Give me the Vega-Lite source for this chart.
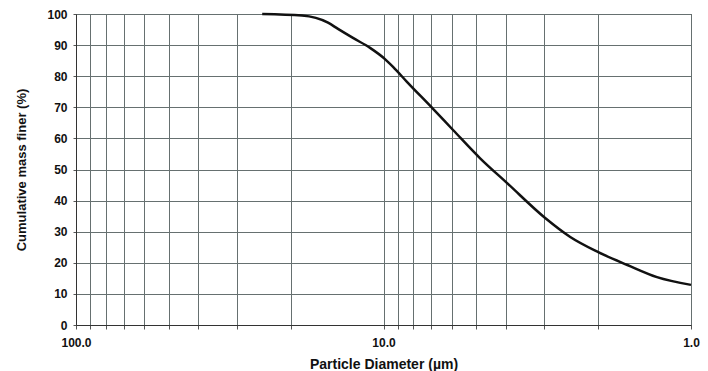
{
  "$schema": "https://vega.github.io/schema/vega-lite/v6.json",
  "width": 615,
  "height": 311,
  "autosize": "none",
  "padding": {"left": 76, "top": 14, "right": 17, "bottom": 46},
  "background": "white",
  "config": {
    "view": {"stroke": "#333333", "strokeWidth": 1},
    "font": "Liberation Sans"
  },
  "data": {
    "values": [
      {"d": 24.8, "p": 100.0},
      {"d": 18.4, "p": 99.5},
      {"d": 15.15, "p": 97.2},
      {"d": 14.06, "p": 95.2},
      {"d": 12.57, "p": 92.3},
      {"d": 11.06, "p": 89.1},
      {"d": 9.89, "p": 85.5},
      {"d": 9.31, "p": 83.0},
      {"d": 8.39, "p": 78.2},
      {"d": 6.9, "p": 69.5},
      {"d": 5.94, "p": 62.7},
      {"d": 4.85, "p": 53.6},
      {"d": 3.97, "p": 45.7},
      {"d": 2.98, "p": 34.4},
      {"d": 2.47, "p": 28.3},
      {"d": 2.01, "p": 23.5},
      {"d": 1.61, "p": 19.3},
      {"d": 1.29, "p": 15.4},
      {"d": 1.0, "p": 12.9}
    ]
  },
  "mark": {"type": "line", "color": "#111111", "strokeWidth": 2.5, "interpolate": "monotone"},
  "encoding": {
    "x": {
      "field": "d",
      "type": "quantitative",
      "scale": {"type": "log", "domain": [1, 100], "reverse": true, "nice": false},
      "axis": {
        "title": "Particle Diameter (µm)",
        "titleFont": "Liberation Sans",
        "titleFontSize": 14,
        "titleFontWeight": "bold",
        "titleColor": "#111111",
        "titlePadding": 9,
        "values": [1, 2, 3, 4, 5, 6, 7, 8, 9, 10, 20, 30, 40, 50, 60, 70, 80, 90, 100],
        "labelExpr": "datum.value == 1 || datum.value == 10 || datum.value == 100 ? format(datum.value, '.1f') : ''",
        "labelFont": "Liberation Sans",
        "labelFontSize": 12,
        "labelFontWeight": "bold",
        "labelColor": "#111111",
        "labelPadding": 8,
        "labelFlush": false,
        "labelOverlap": false,
        "tickSize": 4,
        "tickColor": "#555555",
        "domainColor": "#333333",
        "grid": true,
        "gridColor": "#667070",
        "gridWidth": 1,
        "gridOpacity": 1
      }
    },
    "y": {
      "field": "p",
      "type": "quantitative",
      "scale": {"domain": [0, 100], "nice": false},
      "axis": {
        "title": "Cumulative mass finer (%)",
        "titleFont": "Liberation Sans",
        "titleFontSize": 13,
        "titleFontWeight": "bold",
        "titleColor": "#111111",
        "titlePadding": 18,
        "values": [0, 10, 20, 30, 40, 50, 60, 70, 80, 90, 100],
        "labelFont": "Liberation Sans",
        "labelFontSize": 12,
        "labelFontWeight": "bold",
        "labelColor": "#111111",
        "labelPadding": 6,
        "labelFlush": false,
        "tickSize": 3,
        "tickColor": "#555555",
        "domainColor": "#333333",
        "grid": true,
        "gridColor": "#667070",
        "gridWidth": 1,
        "gridOpacity": 1
      }
    }
  }
}
